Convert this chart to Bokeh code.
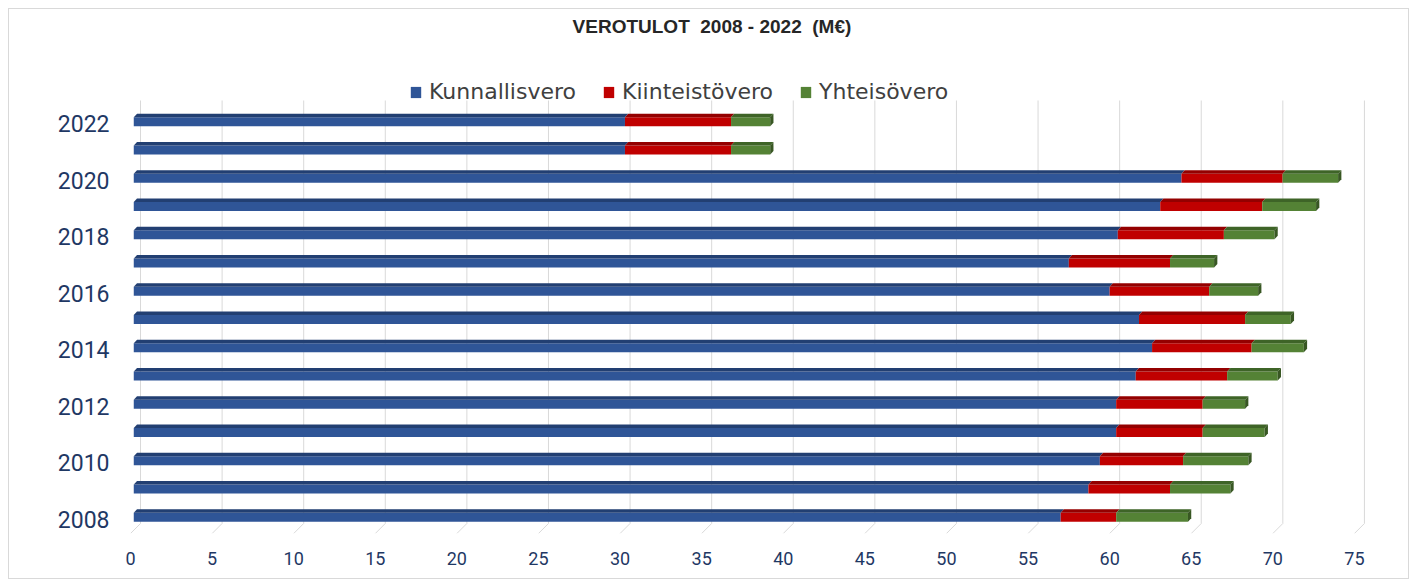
from bokeh.plotting import figure
from bokeh.models import FixedTicker, Label, Range1d, Legend, LegendItem
from bokeh.embed import file_html
from bokeh.resources import INLINE

# ---------------- data ----------------
years = [2008, 2009, 2010, 2011, 2012, 2013, 2014, 2015,
         2016, 2017, 2018, 2019, 2020, 2021, 2022]
kunnallisvero = [56.8, 58.5, 59.2, 60.2, 60.2, 61.4, 62.4, 61.6,
                 59.8, 57.3, 60.3, 62.9, 64.2, 30.1, 30.1]
kiinteistovero = [3.4, 5.0, 5.1, 5.3, 5.3, 5.6, 6.1, 6.5,
                  6.1, 6.2, 6.5, 6.25, 6.2, 6.5, 6.5]
yhteisovero = [4.4, 3.7, 4.0, 3.8, 2.6, 3.1, 3.2, 2.8,
               3.0, 2.7, 3.1, 3.3, 3.4, 2.4, 2.4]
series_names = ["Kunnallisvero", "Kiinteistövero", "Yhteisövero"]
x_ticks = [0, 5, 10, 15, 20, 25, 30, 35, 40, 45, 50, 55, 60, 65, 70, 75]
y_label_years = years[::2]
title_text = "VEROTULOT\u00a0\u00a02008 - 2022\u00a0\u00a0(M€)"

# ---------------- style ----------------
front_colors = ["#2F5597", "#C00000", "#548235"]
top_colors = ["#223F72", "#940000", "#3E6427"]
side_color = "#385723"
grid_color = "#D9D9D9"
tick_color = "#1F3864"

X0, X1 = 0, 75.74
Y0, Y1 = 2007.504, 2026.053   # frame spans the whole upper area (title + legend)
grid_top = 2022.832
depth_dx = 0.2      # 3D depth (x units)
depth_dy = 0.12     # 3D depth (y units)
front_shift = 0.2   # bars sit slightly behind the floor front edge
bar_dy = 0.08       # bar front face centre relative to the label
bar_h = 0.32
wall_dx = 0.613
wall_y = 2007.858

p = figure(width=1401, height=571, x_range=Range1d(X0, X1), y_range=Range1d(Y0, Y1),
           output_backend="svg", toolbar_location=None,
           min_border_left=121, min_border_right=44, min_border_top=0, min_border_bottom=47,
           background_fill_color="white", border_fill_color="white")
p.outline_line_color = None
p.styles = {"border": "1px solid #D9D9D9", "margin-left": "8px", "margin-top": "8px"}
p.xgrid.visible = False
p.ygrid.visible = False

# gridlines (back wall + floor diagonals)
p.segment(x0=[t + wall_dx for t in x_ticks], y0=[wall_y] * len(x_ticks),
          x1=[t + wall_dx for t in x_ticks], y1=[grid_top] * len(x_ticks),
          line_color=grid_color, line_width=1)
p.segment(x0=x_ticks, y0=[Y0] * len(x_ticks),
          x1=[t + wall_dx for t in x_ticks], y1=[wall_y] * len(x_ticks),
          line_color=grid_color, line_width=1)

# stacked bars
series = [kunnallisvero, kiinteistovero, yhteisovero]
lefts = [0.0] * len(years)
renderers = []
top_xs, top_ys, top_cs = [], [], []
for s, vals in enumerate(series):
    rights = [l + v for l, v in zip(lefts, vals)]
    ys = [y + bar_dy for y in years]
    r = p.hbar(y=ys, left=[l + front_shift for l in lefts], right=[r_ + front_shift for r_ in rights],
               height=bar_h, fill_color=front_colors[s], line_color=None)
    renderers.append(r)
    for l, r_, y in zip(lefts, rights, ys):
        xa, xb = l + front_shift, r_ + front_shift
        yt = y + bar_h / 2
        top_xs.append([xa, xa + depth_dx, xb + depth_dx, xb])
        top_ys.append([yt, yt + depth_dy, yt + depth_dy, yt])
        top_cs.append(top_colors[s])
    lefts = rights

p.patches(xs=top_xs, ys=top_ys, fill_color=top_cs, line_color=None)

# right side face of each full bar
side_xs, side_ys = [], []
for tot, y in zip(lefts, years):
    xb = tot + front_shift
    yb = y + bar_dy - bar_h / 2
    yt = y + bar_dy + bar_h / 2
    side_xs.append([xb, xb + depth_dx, xb + depth_dx, xb])
    side_ys.append([yb, yb + depth_dy, yt + depth_dy, yt])
p.patches(xs=side_xs, ys=side_ys, fill_color=side_color, line_color=None)

# axes
p.xaxis.ticker = FixedTicker(ticks=x_ticks)
p.xaxis.axis_line_color = None
p.xaxis.major_tick_line_color = None
p.xaxis.minor_tick_line_color = None
p.xaxis.major_label_standoff = 12
p.xaxis.major_label_text_font = "Roboto"
p.xaxis.major_label_text_font_size = "18px"
p.xaxis.major_label_text_color = tick_color

p.yaxis.ticker = FixedTicker(ticks=y_label_years)
p.yaxis.axis_line_color = None
p.yaxis.major_tick_line_color = None
p.yaxis.minor_tick_line_color = None
p.yaxis.major_label_standoff = 15
p.yaxis.major_label_text_font = "Roboto"
p.yaxis.major_label_text_font_size = "23px"
p.yaxis.major_label_text_color = tick_color

# legend
legend = Legend(items=[LegendItem(label=n, renderers=[r]) for n, r in zip(series_names, renderers)],
                orientation="horizontal", location=(279, 429),
                border_line_color=None, background_fill_alpha=0,
                padding=0, margin=0, spacing=26, label_standoff=7,
                glyph_width=13, glyph_height=14,
                label_text_font="DejaVu Sans", label_text_font_size="22px",
                label_text_color="#404040")
p.add_layout(legend)

# title
p.add_layout(Label(x=35.63, y=2025.45, text=title_text, text_align="center",
                   text_baseline="middle", text_font="Liberation Sans",
                   text_font_style="bold", text_font_size="19px", text_color="#262626"))

open("out.html", "w").write(file_html(p, INLINE))
